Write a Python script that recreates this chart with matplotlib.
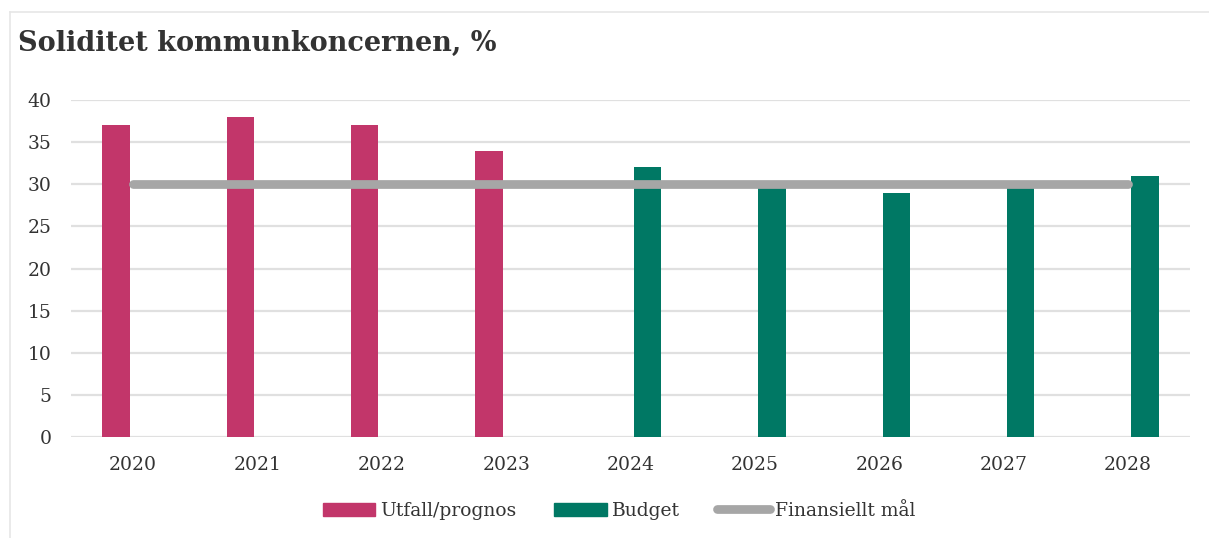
import numpy as np
import matplotlib.pyplot as plt
from matplotlib.lines import Line2D

years = ["2020", "2021", "2022", "2023", "2024", "2025", "2026", "2027", "2028"]
utfall = [37, 38, 37, 34, None, None, None, None, None]
budget = [None, None, None, None, 32, 30, 29, 30, 31]
mal = [30, 30, 30, 30, 30, 30, 30, 30, 30]

pink = "#C2366A"
green = "#007864"
grey = "#A6A6A6"
txt = "#333333"

plt.rcParams["font.family"] = ["DejaVu Serif"]

fig = plt.figure(figsize=(12.09, 5.38), dpi=100)
ax = fig.add_axes([71 / 1209, 1 - 437 / 538, (1190 - 71) / 1209, (437 - 100) / 538])

x = np.arange(len(years))
w = 0.22
off = 0.137

xu = [i for i, v in enumerate(utfall) if v is not None]
ax.bar(np.array(xu) - off, [utfall[i] for i in xu], width=w, color=pink, zorder=2)
xb = [i for i, v in enumerate(budget) if v is not None]
ax.bar(np.array(xb) + off, [budget[i] for i in xb], width=w, color=green, zorder=2)
ax.plot(x, mal, color=grey, lw=6.3, solid_capstyle="round", zorder=3)

ax.set_xlim(-0.5, len(years) - 0.5)
ax.set_ylim(0, 40)
ax.set_yticks(range(0, 41, 5))
ax.set_xticks(x)
ax.set_xticklabels(years)
ax.yaxis.grid(True, color="#E0E0E0", lw=1.6, zorder=0)
ax.set_axisbelow(True)
for s in ax.spines.values():
    s.set_visible(False)
ax.tick_params(axis="both", length=0, labelsize=13.5, colors=txt)
ax.tick_params(axis="x", pad=14)
ax.tick_params(axis="y", pad=14)

fig.text(18 / 1209, 1 - 43 / 538, "Soliditet kommunkoncernen, %", fontsize=19.5,
         fontweight="bold", color=txt, va="center", ha="left")

handles = [
    plt.Rectangle((0, 0), 1, 1, color=pink),
    plt.Rectangle((0, 0), 1, 1, color=green),
    Line2D([0], [0], color=grey, lw=6.3, solid_capstyle="round"),
]
fig.legend(handles, ["Utfall/prognos", "Budget", "Finansiellt mål"], loc="center",
           bbox_to_anchor=(619 / 1209, 1 - 511 / 538), ncol=3, frameon=False,
           fontsize=13.5, handlelength=2.8, handletextpad=0.27, columnspacing=2.0,
           labelcolor=txt)

# thin frame on top and left
fig.add_artist(Line2D([10 / 1209, 1], [1 - 12 / 538, 1 - 12 / 538], color="#E6E6E6", lw=1.2))
fig.add_artist(Line2D([10 / 1209, 10 / 1209], [0, 1 - 12 / 538], color="#E6E6E6", lw=1.2))

fig.savefig("out.png", dpi=100)
